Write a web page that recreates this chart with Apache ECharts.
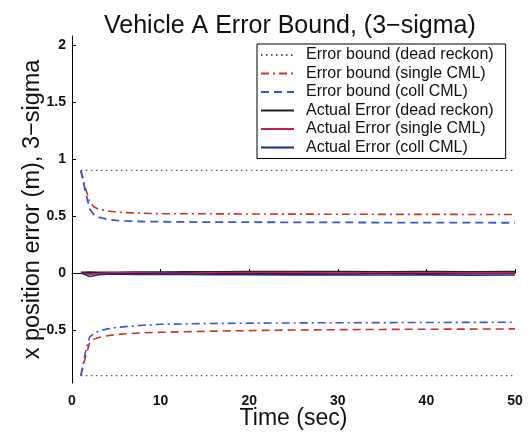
<!DOCTYPE html>
<html>
<head>
<meta charset="utf-8">
<script src="https://cdn.jsdelivr.net/npm/echarts@6/dist/echarts.min.js"></script>
<style>html,body{margin:0;padding:0;background:#fff}#c{width:528px;height:437px}</style>
</head>
<body>
<div id="c"></div>
<script>
// ---- data ----
var yTicks = [-0.5, 0, 0.5, 1, 1.5, 2];
var xTicks = [0, 10, 20, 30, 40, 50];
var deadT = [1, 50];
var deadUp = [0.9, 0.9];
var deadLow = [-0.9, -0.9];
var boundT = [1, 1.5, 2, 2.5, 3, 4, 5, 6, 8, 10, 15, 20, 25, 30, 35, 40, 45, 50];
var singleUp = [0.90, 0.75, 0.62, 0.58, 0.56, 0.545, 0.535, 0.53, 0.525, 0.52, 0.52, 0.518, 0.517, 0.516, 0.515, 0.515, 0.514, 0.514];
var collUp = [0.90, 0.72, 0.56, 0.51, 0.49, 0.47, 0.462, 0.457, 0.452, 0.45, 0.447, 0.446, 0.445, 0.444, 0.443, 0.442, 0.442, 0.441];
var singleLow = [-0.90, -0.74, -0.61, -0.58, -0.565, -0.55, -0.54, -0.533, -0.525, -0.52, -0.512, -0.505, -0.50, -0.497, -0.495, -0.493, -0.492, -0.49];
var collLow = [-0.90, -0.70, -0.56, -0.53, -0.51, -0.49, -0.478, -0.47, -0.458, -0.45, -0.443, -0.44, -0.438, -0.436, -0.435, -0.434, -0.433, -0.432];
var errT = [1, 2, 3, 4, 5, 7, 10, 13, 16, 20, 25, 30, 35, 40, 45, 50];
var errDead = [0.005, 0.008, 0.006, 0.005, 0.006, 0.007, 0.008, 0.009, 0.010, 0.012, 0.013, 0.012, 0.011, 0.012, 0.011, 0.012];
var errSingle = [0.0, -0.01, -0.005, 0.0, 0.003, 0.002, 0.0, -0.003, 0.002, 0.005, 0.004, 0.0, 0.003, 0.002, 0.0, 0.001];
var errColl = [0.0, -0.03, -0.015, -0.01, -0.008, -0.012, -0.01, -0.012, -0.015, -0.014, -0.016, -0.015, -0.017, -0.016, -0.018, -0.017];
var names = ['Error bound (dead reckon)', 'Error bound (single CML)', 'Error bound (coll CML)',
             'Actual Error (dead reckon)', 'Actual Error (single CML)', 'Actual Error (coll CML)'];

function pairs(t, v) { return t.map(function (x, i) { return [x, v[i]]; }); }
function fmt(v) { return String(v).replace('-', '\u2212'); }

var FONT = '"Liberation Sans", Arial, Helvetica, sans-serif';
var cDot = '#555555', cRedB = '#d0302a', cBlueB = '#3a55d0', cBlack = '#222222', cRedA = '#c8204a', cBlueA = '#1d2a8c';
var dashDot = [8, 4, 2, 4], dashed = [8, 5], dotted = [1.5, 3.5];

function line(name, t, v, color, type, w) {
  return { name: name, type: 'line', data: pairs(t, v), showSymbol: false, symbol: 'none',
    lineStyle: { color: color, type: type, width: w }, itemStyle: { color: color }, animation: false, z: 2 };
}

var option = {
  animation: false,
  backgroundColor: '#fff',
  title: { text: 'Vehicle A Error Bound, (3\u2212sigma)', left: 99, top: 9,
    textStyle: { fontFamily: FONT, fontSize: 25, fontWeight: 'normal', color: '#111' } },
  grid: { left: 72, right: 13, top: 36, bottom: 54, containLabel: false },
  legend: {
    data: names, orient: 'vertical', left: 257, top: 44,
    itemWidth: 33, itemHeight: 12, itemGap: 2.5,
    padding: [3, 12, 3, 3],
    itemStyle: { opacity: 0 },
    borderColor: '#000', borderWidth: 1, backgroundColor: '#fff',
    textStyle: { fontFamily: FONT, fontSize: 16, color: '#111', padding: [0, 0, 0, 7], lineHeight: 15 }
  },
  xAxis: {
    type: 'value', min: 0, max: 50, interval: 10,
    name: 'Time (sec)', nameLocation: 'middle', nameGap: 24, nameMoveOverlap: false,
    nameTextStyle: { fontFamily: FONT, fontSize: 23, color: '#111' },
    axisLine: { lineStyle: { color: '#000', width: 1 } },
    axisTick: { inside: true, length: 4, lineStyle: { color: '#000' } },
    axisLabel: { fontFamily: FONT, fontSize: 14, fontWeight: 'bold', color: '#111', margin: 11 },
    splitLine: { show: false }
  },
  yAxis: {
    type: 'value', min: -0.965, max: 2.08,
    name: 'x position error (m), 3\u2212sigma', nameLocation: 'middle', nameGap: 27, nameMoveOverlap: false,
    nameTextStyle: { fontFamily: FONT, fontSize: 23.5, color: '#111' },
    axisLine: { show: true, lineStyle: { color: '#000', width: 1 } },
    axisTick: { show: true, inside: true, length: 4, customValues: yTicks, lineStyle: { color: '#000' } },
    axisLabel: { fontFamily: FONT, fontSize: 14, fontWeight: 'bold', color: '#111', margin: 6,
      customValues: yTicks, formatter: function (v) { return fmt(v); } },
    splitLine: { show: false }
  },
  series: [
    line(names[0], deadT, deadUp, cDot, dotted, 1.3),
    line(names[1], boundT, singleUp, cRedB, dashDot, 1.6),
    line(names[2], boundT, collUp, cBlueB, dashed, 1.8),
    line(names[3], errT, errDead, cBlack, 'solid', 1.8),
    line(names[4], errT, errSingle, cRedA, 'solid', 1.6),
    line(names[5], errT, errColl, cBlueA, 'solid', 1.6),
    line('lower dead', deadT, deadLow, cDot, dotted, 1.3),
    line('lower single', boundT, singleLow, cRedB, dashed, 1.6),
    line('lower coll', boundT, collLow, cBlueB, dashDot, 1.6)
  ]
};
var chart = echarts.init(document.getElementById('c'), null, { renderer: 'canvas' });
chart.setOption(option);
</script>
</body>
</html>
